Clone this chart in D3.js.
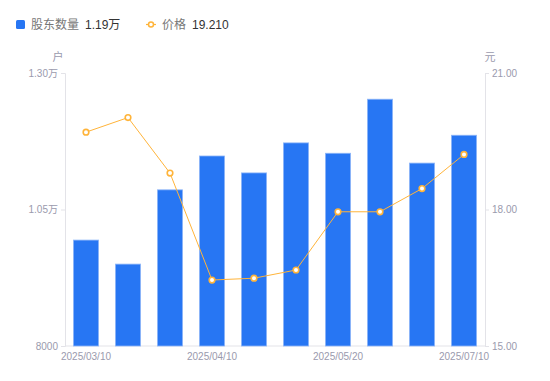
<!DOCTYPE html>
<html>
<head>
<meta charset="utf-8">
<script src="https://cdn.jsdelivr.net/npm/d3@7"></script>
<style>
  body { margin: 0; background: #fff; font-family: "Noto Sans CJK SC", "Liberation Sans", sans-serif; }
</style>
</head>
<body>
<div id="chart"></div>
<script>
// Data
const dates = ["2025/03/10", "2025/03/20", "2025/03/31", "2025/04/10", "2025/04/18", "2025/04/30", "2025/05/20", "2025/06/10", "2025/06/20", "2025/07/10"];
const holders = [9940, 9500, 10860, 11480, 11170, 11720, 11530, 12520, 11350, 11860];
const prices = [19.70, 20.02, 18.80, 16.45, 16.49, 16.67, 17.95, 17.95, 18.46, 19.21];
const leftTicks = [8000, 10500, 13000];
const rightTicks = [15, 18, 21];
const shownDates = ["2025/03/10", "2025/04/10", "2025/05/20", "2025/07/10"];

const W = 550, H = 381;
const M = { left: 65, right: 65, top: 73, bottom: 35 };
const AXIS_COLOR = "#e3e3e8", TEXT_COLOR = "#9a9aad";
const BAR_COLOR = "#2776f3", LINE_COLOR = "#ffb43a";

const svg = d3.select("#chart").append("svg").attr("width", W).attr("height", H);

const x = d3.scaleBand().domain(dates).range([M.left, W - M.right]).paddingInner(0.4).paddingOuter(0.2);
const yL = d3.scaleLinear().domain([8000, 13000]).range([H - M.bottom, M.top]);
const yR = d3.scaleLinear().domain([15, 21]).range([H - M.bottom, M.top]);

const fmtL = d => d >= 10000 ? (d / 10000).toFixed(2) + "万" : String(d);

// left axis
const gL = svg.append("g").attr("transform", `translate(${M.left},0)`)
  .call(d3.axisLeft(yL).tickValues(leftTicks).tickFormat(fmtL).tickSize(4).tickPadding(3));
// right axis
const gR = svg.append("g").attr("transform", `translate(${W - M.right},0)`)
  .call(d3.axisRight(yR).tickValues(rightTicks).tickFormat(d => d.toFixed(2)).tickSize(4).tickPadding(3));
// bottom axis
const gB = svg.append("g").attr("transform", `translate(0,${H - M.bottom})`)
  .call(d3.axisBottom(x).tickValues(shownDates).tickSize(0).tickPadding(7));
gB.select(".domain").attr("d", `M${M.left},0H${W - M.right}`);

[gL, gR, gB].forEach(g => {
  g.select(".domain").attr("stroke", AXIS_COLOR);
  g.selectAll(".tick line").attr("stroke", AXIS_COLOR);
  g.selectAll(".tick text").attr("fill", TEXT_COLOR).style("font-size", "10px")
    .style("font-family", "'Liberation Sans', 'Noto Sans CJK SC', sans-serif");
});

// unit labels
svg.append("text").attr("x", 58).attr("y", 61).attr("text-anchor", "middle")
  .attr("fill", TEXT_COLOR).style("font-size", "11px").text("户");
svg.append("text").attr("x", 490).attr("y", 61).attr("text-anchor", "middle")
  .attr("fill", TEXT_COLOR).style("font-size", "11px").text("元");

// bars
svg.append("g").selectAll("rect").data(holders).join("rect")
  .attr("x", (d, i) => x(dates[i]))
  .attr("y", d => yL(d))
  .attr("width", x.bandwidth())
  .attr("height", d => yL(8000) - yL(d))
  .attr("fill", BAR_COLOR)
  .attr("stroke", "#8fb7f8").attr("stroke-width", 0.8);

// price line
const line = d3.line().x((d, i) => x(dates[i]) + x.bandwidth() / 2).y(d => yR(d));
svg.append("path").datum(prices).attr("d", line)
  .attr("fill", "none").attr("stroke", LINE_COLOR).attr("stroke-width", 1);
svg.append("g").selectAll("circle").data(prices).join("circle")
  .attr("cx", (d, i) => x(dates[i]) + x.bandwidth() / 2)
  .attr("cy", d => yR(d))
  .attr("r", 2.8)
  .attr("fill", "#fff").attr("stroke", LINE_COLOR).attr("stroke-width", 1.6);

// legend
const lg = svg.append("g").style("font-size", "12px");
lg.append("rect").attr("x", 16).attr("y", 20).attr("width", 9).attr("height", 9).attr("rx", 1.5).attr("fill", BAR_COLOR);
lg.append("text").attr("x", 31).attr("y", 29).attr("fill", "#777").text("股东数量");
lg.append("text").attr("x", 85).attr("y", 29).attr("fill", "#333")
  .style("font-family", "'Liberation Sans', 'Noto Sans CJK SC', sans-serif").text(fmtL(holders[holders.length - 1]));
lg.append("line").attr("x1", 146).attr("x2", 156).attr("y1", 24.5).attr("y2", 24.5).attr("stroke", LINE_COLOR).attr("stroke-width", 1.2);
lg.append("circle").attr("cx", 151).attr("cy", 24.5).attr("r", 2.5).attr("fill", "#fff").attr("stroke", LINE_COLOR).attr("stroke-width", 1.5);
lg.append("text").attr("x", 162).attr("y", 29).attr("fill", "#777").text("价格");
lg.append("text").attr("x", 192).attr("y", 29).attr("fill", "#333")
  .style("font-family", "'Liberation Sans', 'Noto Sans CJK SC', sans-serif").text(prices[prices.length - 1].toFixed(3));
</script>
</body>
</html>
